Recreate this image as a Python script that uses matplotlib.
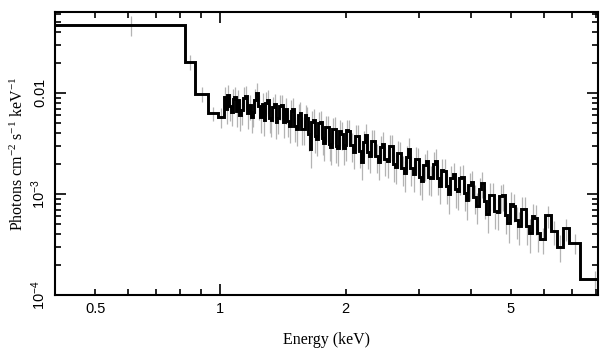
import numpy as np
import matplotlib
matplotlib.use("Agg")
import matplotlib.pyplot as plt
from matplotlib.ticker import FixedLocator, FixedFormatter, NullFormatter

plt.rcParams['mathtext.fontset'] = 'custom'
plt.rcParams['mathtext.rm'] = 'Liberation Serif'
plt.rcParams['mathtext.sf'] = 'Liberation Sans'
plt.rcParams['mathtext.default'] = 'regular'

# ---- data ----
edges_low = [0.40, 0.82, 0.87, 0.935, 0.985]
edges_a = [1.02, 1.03, 1.04, 1.05, 1.06, 1.07, 1.08, 1.09, 1.10, 1.11, 1.12,
           1.1325, 1.145, 1.1575, 1.17, 1.1825, 1.195, 1.2075, 1.22, 1.2325, 1.245,
           1.2575, 1.27, 1.2825, 1.295, 1.3075, 1.32, 1.3325, 1.345, 1.3575, 1.37,
           1.385, 1.40, 1.415, 1.43, 1.445, 1.46, 1.475, 1.49, 1.505, 1.52, 1.535,
           1.55, 1.565, 1.58, 1.595, 1.61, 1.625, 1.64, 1.655, 1.67, 1.685, 1.70,
           1.7175, 1.735, 1.7525, 1.77, 1.7875, 1.805, 1.8225, 1.84, 1.8575, 1.875,
           1.8925, 1.91, 1.93, 1.95, 1.97]
edges_b = [1.99, 2.01, 2.03, 2.055, 2.08, 2.105, 2.13, 2.155, 2.18, 2.205, 2.23,
           2.255, 2.28, 2.305, 2.33, 2.36, 2.39, 2.42, 2.45, 2.48, 2.51, 2.54, 2.57,
           2.60, 2.63, 2.66, 2.69, 2.725, 2.76, 2.795, 2.83, 2.865, 2.90, 2.935,
           2.97, 3.005, 3.04, 3.08, 3.12, 3.16, 3.20, 3.24, 3.28, 3.32, 3.36, 3.40,
           3.44, 3.485, 3.53, 3.575, 3.62, 3.665, 3.71, 3.755, 3.80, 3.85, 3.90,
           3.95]
edges_c = [4.00, 4.06, 4.12, 4.18, 4.24, 4.30, 4.36, 4.425, 4.49, 4.555, 4.62,
           4.69, 4.76, 4.83, 4.90, 4.975, 5.05, 5.125, 5.20, 5.28, 5.36, 5.44,
           5.52, 5.605, 5.69, 5.78, 5.87, 6.05, 6.25, 6.45, 6.67, 6.90, 7.33, 8.60]

flux_low = [0.047, 0.0203, 0.0098, 0.0063, 0.0058]
flux_a = [9.10e-3, 6.90e-3, 9.46e-3, 7.52e-3, 6.50e-3, 8.77e-3, 9.12e-3, 6.61e-3,
          8.45e-3, 6.12e-3, 6.82e-3, 8.99e-3, 9.35e-3, 6.32e-3, 7.53e-3, 5.85e-3,
          6.52e-3, 8.59e-3, 10.02e-3, 7.43e-3, 5.81e-3, 7.83e-3, 5.43e-3, 8.04e-3,
          8.43e-3, 5.70e-3, 5.35e-3, 7.21e-3, 7.76e-3, 5.13e-3, 5.64e-3, 7.43e-3,
          7.60e-3, 5.14e-3, 6.93e-3, 5.26e-3, 4.70e-3, 6.64e-3, 6.97e-3, 4.71e-3,
          4.41e-3, 6.08e-3, 6.35e-3, 4.40e-3, 4.45e-3, 6.00e-3, 5.68e-3, 3.93e-3,
          2.82e-3, 5.13e-3, 5.45e-3, 3.77e-3, 3.48e-3, 5.04e-3, 5.20e-3, 3.60e-3,
          3.17e-3, 4.58e-3, 4.63e-3, 3.13e-3, 2.89e-3, 4.38e-3, 4.44e-3, 3.00e-3,
          2.83e-3, 4.19e-3, 3.94e-3, 2.86e-3]
flux_b = [3.09e-3, 4.27e-3, 4.20e-3, 3.04e-3, 2.61e-3, 3.78e-3, 3.73e-3, 2.64e-3,
          2.07e-3, 3.29e-3, 3.82e-3, 2.58e-3, 2.38e-3, 3.37e-3, 3.33e-3, 2.36e-3,
          2.07e-3, 2.92e-3, 3.16e-3, 2.23e-3, 2.10e-3, 2.97e-3, 2.99e-3, 1.98e-3,
          1.86e-3, 2.57e-3, 2.52e-3, 1.79e-3, 1.60e-3, 2.31e-3, 2.79e-3, 1.80e-3,
          1.58e-3, 2.23e-3, 2.20e-3, 1.49e-3, 1.33e-3, 1.92e-3, 2.12e-3, 1.47e-3,
          1.44e-3, 1.99e-3, 2.14e-3, 1.45e-3, 1.21e-3, 1.71e-3, 1.70e-3, 1.21e-3,
          9.95e-4, 1.44e-3, 1.57e-3, 1.11e-3, 1.06e-3, 1.43e-3, 1.49e-3, 1.03e-3,
          8.73e-4, 1.23e-3]
flux_c = [1.31e-3, 9.27e-4, 7.60e-4, 1.12e-3, 1.28e-3, 8.43e-4, 6.31e-4, 9.77e-4,
          9.84e-4, 6.81e-4, 6.70e-4, 9.46e-4, 9.75e-4, 6.15e-4, 5.15e-4, 7.98e-4,
          7.66e-4, 5.55e-4, 4.86e-4, 7.03e-4, 7.06e-4, 4.78e-4, 4.11e-4, 6.08e-4,
          5.83e-4, 4.13e-4, 3.61e-4, 6.14e-4, 4.26e-4, 3.01e-4, 4.56e-4, 3.27e-4,
          1.44e-4]

err_low = [0.22, 0.17, 0.16, 0.16, 0.22]
err_a = [0.26, 0.29, 0.27, 0.30, 0.28, 0.26, 0.27, 0.30, 0.26, 0.31, 0.29, 0.27,
         0.26, 0.30, 0.28, 0.31, 0.29, 0.27, 0.25, 0.28, 0.31, 0.27, 0.31, 0.26,
         0.27, 0.30, 0.31, 0.28, 0.27, 0.31, 0.30, 0.28, 0.27, 0.31, 0.28, 0.30,
         0.32, 0.28, 0.27, 0.31, 0.32, 0.28, 0.28, 0.31, 0.31, 0.28, 0.29, 0.32,
         0.36, 0.29, 0.28, 0.32, 0.32, 0.29, 0.28, 0.32, 0.33, 0.29, 0.29, 0.32,
         0.33, 0.29, 0.29, 0.33, 0.33, 0.29, 0.30, 0.33]
err_b = [0.31, 0.28, 0.28, 0.31, 0.32, 0.29, 0.29, 0.32, 0.34, 0.29, 0.28, 0.32,
         0.32, 0.29, 0.29, 0.32, 0.33, 0.29, 0.29, 0.32, 0.32, 0.29, 0.29, 0.33,
         0.33, 0.29, 0.30, 0.33, 0.34, 0.30, 0.28, 0.33, 0.33, 0.30, 0.30, 0.34,
         0.35, 0.30, 0.29, 0.33, 0.33, 0.30, 0.29, 0.33, 0.34, 0.31, 0.31, 0.34,
         0.36, 0.31, 0.30, 0.34, 0.34, 0.31, 0.30, 0.34, 0.36, 0.31]
err_c = [0.29, 0.32, 0.34, 0.30, 0.29, 0.33, 0.35, 0.31, 0.30, 0.34, 0.34, 0.31,
         0.30, 0.35, 0.36, 0.31, 0.31, 0.35, 0.36, 0.32, 0.31, 0.35, 0.37, 0.32,
         0.32, 0.36, 0.29, 0.25, 0.27, 0.30, 0.25, 0.22, 0.20]

x_tick_vals = [0.5, 1, 2, 5]
x_tick_labels = ["0.5", "1", "2", "5"]
y_tick_vals = [1e-4, 1e-3, 1e-2]
y_tick_labels = [r"$\mathsf{10^{-4}}$", r"$\mathsf{10^{-3}}$", r"$\mathsf{0.01}$"]

# ---- figure ----
fig = plt.figure(figsize=(6.09, 3.57), dpi=100)
ax = fig.add_axes([55/609, 1-295/357, (598-55)/609, (295-12)/357])

edges = np.array(edges_low + edges_a + edges_b + edges_c)
vals = np.array(flux_low + flux_a + flux_b + flux_c)
errs = np.array(err_low + err_a + err_b + err_c)
centers = 0.5 * (edges[:-1] + edges[1:])
ax.errorbar(centers, vals, yerr=vals*errs, fmt='none',
            ecolor='#b4b4b4', elinewidth=0.9, zorder=1)
ax.stairs(vals, edges, baseline=None, color='black', linewidth=2.1, zorder=2)

ax.set_xscale('log')
ax.set_yscale('log')
ax.set_xlim(0.4, 8.1)
ax.set_ylim(1e-4, 0.0634)

ax.xaxis.set_major_locator(FixedLocator([1]))
ax.xaxis.set_major_formatter(NullFormatter())
ax.xaxis.set_minor_locator(FixedLocator([0.5, 0.6, 0.7, 0.8, 0.9, 2, 3, 4, 5, 6, 7, 8]))
ax.xaxis.set_minor_formatter(NullFormatter())
for v, lab in zip(x_tick_vals, x_tick_labels):
    ax.text(v, -0.026, lab, transform=ax.get_xaxis_transform(), ha='center', va='top',
            fontsize=10.5, family='Liberation Sans')

ax.yaxis.set_major_locator(FixedLocator(y_tick_vals))
ax.yaxis.set_major_formatter(FixedFormatter(y_tick_labels))
ax.yaxis.set_minor_locator(FixedLocator([m*d for d in [1e-4, 1e-3, 1e-2] for m in range(2, 10)]))
ax.yaxis.set_minor_formatter(NullFormatter())
for lab in ax.get_yticklabels():
    lab.set_rotation(90)
    lab.set_va('center')
    lab.set_fontsize(10.5)

ax.tick_params(which='both', direction='in', top=True, right=True, width=1.2, color='black')
ax.tick_params(which='major', length=8, pad=5)
ax.tick_params(which='minor', length=4)
for s in ax.spines.values():
    s.set_linewidth(1.5)

ax.set_xlabel("Energy (keV)", fontsize=11.5, family='Liberation Serif', labelpad=22)
ax.set_ylabel(r"Photons cm$^{-2}$ s$^{-1}$ keV$^{-1}$", fontsize=11.5,
              family='Liberation Serif', labelpad=2)

fig.savefig("out.png", dpi=100)
